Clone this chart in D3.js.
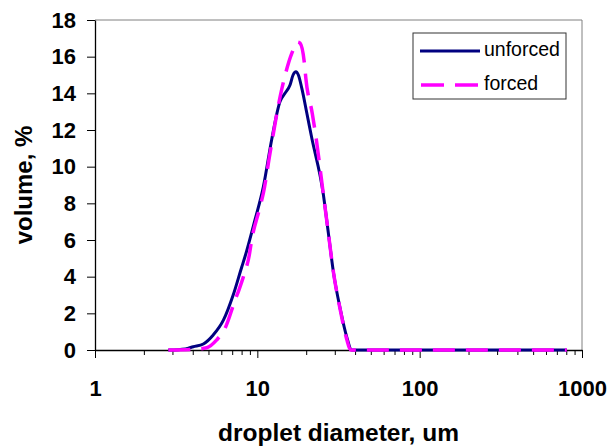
<!DOCTYPE html>
<html>
<head>
<meta charset="utf-8">
<script src="https://cdn.jsdelivr.net/npm/d3@7"></script>
<style>
	body { margin: 0; background: #fff; }
	text { font-family: Arial, "Liberation Sans", sans-serif; }
</style>
</head>
<body>
<div class="chart"></div>
<script>
// droplet size distributions
var unforcedDiameter = [2.83, 3.6, 4.03, 4.65, 5.35, 6.19, 7.1, 8.0, 8.4, 9.67, 10.89, 12.27, 13.8, 14.8, 15.9, 16.6, 17.3, 17.9, 18.8, 20.2, 21.6, 25.5, 27.4, 29.5, 32.4, 35.5, 38.2, 100, 400, 806];
var unforcedVolume = [0, 0.06, 0.18, 0.33, 0.82, 1.64, 3.0, 4.5, 5.1, 7.1, 8.9, 11.5, 13.55, 14.0, 14.45, 15.0, 15.18, 15.0, 14.27, 12.9, 11.6, 8.5, 6.36, 4.18, 2.25, 0.73, 0, 0, 0, 0];
var forcedDiameter = [2.83, 4.03, 4.87, 5.62, 6.32, 7.3, 7.7, 8.27, 8.9, 9.23, 10.4, 10.89, 11.97, 13.8, 14.5, 16.3, 17.7, 18.35, 19.5, 19.9, 21.8, 22.9, 25.5, 27.4, 29.5, 32.4, 35.5, 37.5, 100, 400, 806];
var forcedVolume = [0, 0.04, 0.12, 0.55, 1.18, 2.73, 3.27, 4.09, 5.13, 6.0, 7.82, 8.55, 10.73, 13.8, 14.64, 16.18, 16.8, 16.73, 15.64, 14.82, 12.9, 11.7, 8.5, 6.36, 4.18, 2.2, 0.6, 0, 0, 0, 0];
var seriesNames = ['unforced', 'forced'];
var xTickValues = [1, 10, 100, 1000];
var yTickValues = [0, 2, 4, 6, 8, 10, 12, 14, 16, 18];

var drawChart = function(){
	var w = 616;
	var h = 446;
	var margin = {top: 20, right: 34, bottom: 96, left: 95};
	var plotW = w - margin.left - margin.right;
	var plotH = h - margin.top - margin.bottom;

	var svg = d3.select('.chart').append('svg')
		.attr('width', w)
		.attr('height', h);

	var g = svg.append('g')
		.attr('transform', 'translate(' + margin.left + ',' + margin.top + ')');

	var x = d3.scaleLog().domain([1, 1000]).range([0, plotW]);
	var y = d3.scaleLinear().domain([0, 18]).range([plotH, 0]);

	/*---------------------------FRAME--------------------------*/

	g.append('line')
		.attr('x1', 0).attr('y1', 0)
		.attr('x2', plotW).attr('y2', 0)
		.attr('stroke', '#808080');
	g.append('line')
		.attr('x1', plotW).attr('y1', 0)
		.attr('x2', plotW).attr('y2', plotH)
		.attr('stroke', '#808080');

	/*---------------------------AXES--------------------------*/

	var minorTicks = [];
	[1, 10, 100].forEach(function(dec){
		for (var k = 2; k <= 9; k++) minorTicks.push(dec * k);
	});

	var xMinor = g.append('g')
		.attr('transform', 'translate(0,' + plotH + ')')
		.call(d3.axisBottom(x).tickValues(minorTicks).tickSize(5).tickFormat(''));
	xMinor.select('.domain').remove();

	var xAxis = g.append('g')
		.attr('transform', 'translate(0,' + plotH + ')')
		.call(d3.axisBottom(x).tickValues(xTickValues).tickSize(8).tickSizeOuter(0).tickFormat(d3.format('d')));
	xAxis.selectAll('text')
		.attr('y', 46)
		.attr('dy', 0)
		.style('font-size', '22px')
		.style('font-weight', 'bold')
		.attr('fill', '#000');

	var yAxis = g.append('g')
		.call(d3.axisLeft(y).tickValues(yTickValues).tickSize(8).tickSizeOuter(0).tickPadding(11));
	yAxis.selectAll('text')
		.style('font-size', '22px')
		.style('font-weight', 'bold')
		.attr('fill', '#000');

	g.selectAll('.tick line').attr('stroke', '#000');
	g.selectAll('.domain').attr('stroke', '#000').attr('stroke-width', 1.3);

	svg.append('text')
		.attr('x', margin.left + plotW / 2)
		.attr('y', 441)
		.attr('text-anchor', 'middle')
		.style('font-size', '24.5px')
		.style('font-weight', 'bold')
		.text('droplet diameter, um');

	svg.append('text')
		.attr('transform', 'translate(32,' + (margin.top + plotH / 2) + ') rotate(-90)')
		.attr('text-anchor', 'middle')
		.style('font-size', '24px')
		.style('font-weight', 'bold')
		.text('volume, %');

	/*---------------------------LINES--------------------------*/

	var line = d3.line()
		.x(function(d){ return x(d[0]); })
		.y(function(d){ return y(d[1]); })
		.curve(d3.curveMonotoneX);

	var unforced = d3.zip(unforcedDiameter, unforcedVolume);
	var forced = d3.zip(forcedDiameter, forcedVolume);

	g.append('path')
		.datum(unforced)
		.attr('d', line)
		.attr('fill', 'none')
		.attr('stroke', '#000080')
		.attr('stroke-width', 3);

	g.append('path')
		.datum(forced)
		.attr('d', line)
		.attr('fill', 'none')
		.attr('stroke', '#ff00ff')
		.attr('stroke-width', 3.5)
		.attr('stroke-dasharray', '22,11');

	/*---------------------------LEGEND--------------------------*/

	var legend = svg.append('g')
		.attr('transform', 'translate(413,33)');

	legend.append('rect')
		.attr('x', 0)
		.attr('y', 0)
		.attr('width', 153)
		.attr('height', 66)
		.attr('fill', '#fff')
		.attr('stroke', '#333')
		.attr('stroke-width', 1);

	legend.append('line')
		.attr('x1', 7).attr('y1', 18)
		.attr('x2', 67).attr('y2', 18)
		.attr('stroke', '#000080')
		.attr('stroke-width', 3);

	legend.append('line')
		.attr('x1', 8).attr('y1', 52)
		.attr('x2', 65).attr('y2', 52)
		.attr('stroke', '#ff00ff')
		.attr('stroke-width', 3.5)
		.attr('stroke-dasharray', '23,11');

	legend.selectAll('.label').data(seriesNames)
		.enter()
		.append('text')
		.attr('class', 'label')
		.attr('x', 71)
		.attr('y', function(d, i){ return 23 + i * 33.5; })
		.style('font-size', '19.5px')
		.text(function(d){ return d; });
}();
</script>
</body>
</html>
